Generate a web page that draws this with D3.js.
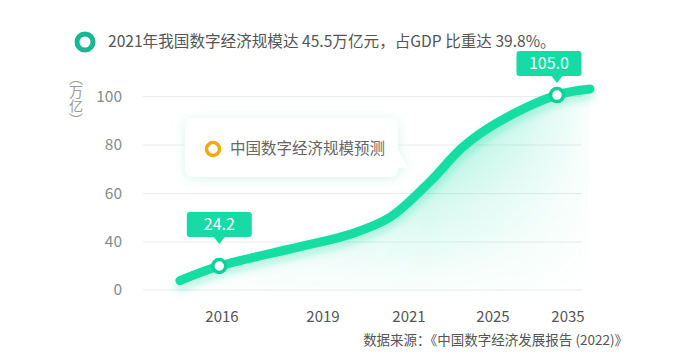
<!DOCTYPE html>
<html><head><meta charset="utf-8">
<script src="https://cdn.jsdelivr.net/npm/d3@7"></script>
<style>
html,body{margin:0;padding:0;background:#fff;}
svg{display:block;font-family:"Noto Sans CJK SC","Noto Sans",sans-serif;}
</style></head>
<body><svg id="c" width="689" height="357"></svg>
<script>
// ---- data ----
const titleText = "2021年我国数字经济规模达 45.5万亿元，占GDP 比重达 39.8%。";
const legendText = "中国数字经济规模预测";
const unitText = "（万亿）";
const sourceText = "数据来源：《中国数字经济发展报告 (2022)》";
const xTickYears = [2016, 2019, 2021, 2025, 2035];
const yTickValues = [0, 40, 60, 80, 100];
const curveYears  = [2014.75, 2015.92, 2018.32, 2019.65, 2020.56, 2022.0, 2023.57, 2025.53, 2033.53, 2037.93];
const curveValues = [7.8, 20.0, 36.1, 43.3, 50.2, 64.9, 79.2, 89.1, 100.6, 103.1];
const markerIndex = [1, 8];
const markerLabels = ["24.2", "105.0"];

// ---- layout ----
const svg = d3.select("#c");
const x = d3.scaleLinear().domain(xTickYears).range([222, 323, 409, 493, 568]);
const y = d3.scaleLinear().domain(yTickValues).range([290, 242, 193.5, 145, 96.5]);
const gridX0 = 143, gridX1 = 582;
const teal = "#14dea3", tealDark = "#0fcf9c";
const tipOffsets = [{dx: 0, gap: 29}, {dx: -8, gap: 19}];

const defs = svg.append("defs");
const ag = defs.append("linearGradient").attr("id","areaG").attr("gradientUnits","userSpaceOnUse")
  .attr("x1",0).attr("y1",90).attr("x2",0).attr("y2",300);
ag.append("stop").attr("offset",0).attr("stop-color","#14dca4").attr("stop-opacity",0.5);
ag.append("stop").attr("offset",0.55).attr("stop-color","#14dca4").attr("stop-opacity",0.18);
ag.append("stop").attr("offset",1).attr("stop-color","#14dca4").attr("stop-opacity",0);
const mg = defs.append("linearGradient").attr("id","maskG").attr("gradientUnits","userSpaceOnUse")
  .attr("x1",170).attr("y1",0).attr("x2",600).attr("y2",0);
mg.append("stop").attr("offset",0).attr("stop-color","#fff").attr("stop-opacity",0.6);
mg.append("stop").attr("offset",0.6).attr("stop-color","#fff").attr("stop-opacity",1);
mg.append("stop").attr("offset",1).attr("stop-color","#fff").attr("stop-opacity",0);
defs.append("mask").attr("id","areaM").append("rect").attr("x",0).attr("y",0).attr("width",689).attr("height",357).attr("fill","url(#maskG)");
const lf = defs.append("filter").attr("id","lineShadow").attr("x","-20%").attr("y","-20%").attr("width","140%").attr("height","160%");
lf.append("feDropShadow").attr("dx",0).attr("dy",5).attr("stdDeviation",4).attr("flood-color","#14dca4").attr("flood-opacity",0.35);
const bf = defs.append("filter").attr("id","boxShadow").attr("x","-20%").attr("y","-40%").attr("width","140%").attr("height","180%");
bf.append("feDropShadow").attr("dx",0).attr("dy",2).attr("stdDeviation",6).attr("flood-color","#b9ecdc").attr("flood-opacity",0.55);

// title
svg.append("circle").attr("cx",85).attr("cy",42).attr("r",8).attr("fill","none").attr("stroke","#16b795").attr("stroke-width",5);
svg.append("text").attr("x",108).attr("y",42).attr("dy","0.35em").attr("font-size",15.6).attr("fill","#555").text(titleText);

// grid
svg.append("g").selectAll("line").data(yTickValues).join("line")
  .attr("x1",gridX0).attr("x2",gridX1).attr("y1",d=>y(d)).attr("y2",d=>y(d))
  .attr("stroke","#ececec").attr("stroke-width",1);
// y tick labels
svg.append("g").selectAll("text").data(yTickValues).join("text")
  .attr("x",122).attr("y",d=>y(d)).attr("dy","0.35em").attr("text-anchor","end")
  .attr("font-size",15.5).attr("fill","#8a8a8a").text(d=>d);
// unit label vertical
svg.append("text").attr("x",76).attr("y",71).attr("font-size",14).attr("fill","#9a9a9a")
  .style("writing-mode","vertical-rl").text(unitText);

// x tick labels
svg.append("g").selectAll("text").data(xTickYears).join("text")
  .attr("x",d=>x(d)).attr("y",317).attr("dy","0.35em").attr("text-anchor","middle")
  .attr("font-size",15).attr("fill","#555").text(d=>d);
// source
svg.append("text").attr("x",628).attr("y",340).attr("dy","0.35em").attr("text-anchor","end")
  .attr("font-size",13.5).attr("fill","#555").text(sourceText);

// area + line
const pts = curveYears.map((yr,i)=>({yr, v: curveValues[i]}));
const curve = d3.curveCatmullRom.alpha(0.5);
const area = d3.area().x(d=>x(d.yr)).y0(300).y1(d=>y(d.v)).curve(curve);
svg.append("path").datum(pts).attr("d",area).attr("fill","url(#areaG)").attr("mask","url(#areaM)");
const line = d3.line().x(d=>x(d.yr)).y(d=>y(d.v)).curve(curve);
svg.append("path").datum(pts).attr("d",line).attr("fill","none").attr("stroke",teal)
  .attr("stroke-width",9).attr("stroke-linecap","round").attr("filter","url(#lineShadow)");

// legend box
const lg = svg.append("g");
lg.append("path").attr("d","M193,118 H390 Q398,118 398,126 V150 L408,168 L398,168 Q398,177 390,177 H193 Q185,177 185,169 V126 Q185,118 193,118 Z")
  .attr("fill","#fff").attr("filter","url(#boxShadow)");
lg.append("circle").attr("cx",213).attr("cy",149).attr("r",6.5).attr("fill","none").attr("stroke","#f6a80c").attr("stroke-width",3.5);
lg.append("text").attr("x",230).attr("y",149).attr("dy","0.35em").attr("font-size",15.5).attr("fill","#666").text(legendText);

// markers + tooltips
markerIndex.forEach((idx,k)=>{
  const mx = x(curveYears[idx]), my = y(curveValues[idx]);
  const o = tipOffsets[k];
  const bottom = my - o.gap, cx = mx + o.dx, w = 65, h = 25;
  const g = svg.append("g");
  g.append("rect").attr("x",cx-w/2).attr("y",bottom-h).attr("width",w).attr("height",h).attr("rx",3).attr("fill","#16dba5");
  g.append("path").attr("d",`M${mx-6},${bottom-0.5} L${mx},${bottom+7} L${mx+6},${bottom-0.5} Z`).attr("fill","#16dba5");
  g.append("text").attr("x",cx).attr("y",bottom-h/2).attr("dy","0.36em").attr("text-anchor","middle")
    .attr("font-size",16).attr("fill","#fff").text(markerLabels[k]);
  svg.append("circle").attr("cx",mx).attr("cy",my).attr("r",6.5).attr("fill","#fff").attr("stroke",tealDark).attr("stroke-width",3.5);
});
</script></body></html>
